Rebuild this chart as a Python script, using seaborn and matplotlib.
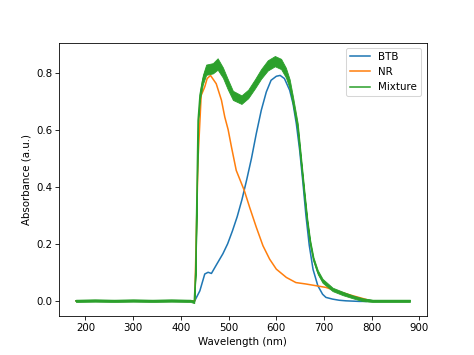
import matplotlib
matplotlib.use("Agg")
import matplotlib.pyplot as plt
import seaborn as sns
import pandas as pd
import numpy as np

# BTB
btb_wl = [180, 300, 420, 429, 439.7, 450, 457, 464, 474, 488, 498, 508, 518, 528, 538, 548, 558, 568.5,
          579, 589, 600, 608, 617, 628, 635, 642, 649, 656, 662, 669, 677, 687, 697, 704, 718, 732,
          746, 774, 788]
btb_abs = [0.0, 0.0, 0.0, 0.0, 0.035, 0.094, 0.10, 0.096, 0.125, 0.165, 0.20, 0.245, 0.295, 0.355,
           0.425, 0.50, 0.586, 0.668, 0.732, 0.773, 0.787, 0.79, 0.779, 0.738, 0.691, 0.62, 0.527,
           0.41, 0.30, 0.195, 0.11, 0.053, 0.023, 0.012, 0.006, 0.002, 0.0, -0.002, -0.002]

# NR
nr_wl = [180, 300, 420, 429, 436, 442.5, 450, 455, 462, 474, 485, 492, 499, 506, 516, 533, 544, 558,
         572, 586, 600, 621, 641, 662, 683, 704, 720, 740, 760, 788, 795]
nr_abs = [0.0, 0.0, 0.0, 0.0, 0.5, 0.72, 0.75, 0.779, 0.79, 0.761, 0.703, 0.644, 0.60, 0.539, 0.457,
          0.386, 0.328, 0.258, 0.193, 0.146, 0.111, 0.082, 0.064, 0.059, 0.053, 0.047, 0.038, 0.028,
          0.018, 0.005, 0.0]

# Mixture (centre of the noisy trace) and its noise half-width
mix_wl = [180, 220, 260, 300, 340, 380, 420, 428, 431, 436, 440, 446, 453, 467, 477, 488, 498, 509,
          527, 541, 555, 568, 582, 597, 610, 620, 628, 635, 645, 652, 659, 665, 671, 678, 687, 697,
          718, 739, 760, 781, 802, 840, 880]
mix_abs = [0.0, 0.001, 0.0, 0.001, 0.0, 0.001, 0.0, -0.004, 0.1, 0.632, 0.72, 0.775, 0.81, 0.815,
           0.83, 0.80, 0.76, 0.72, 0.705, 0.725, 0.76, 0.795, 0.825, 0.84, 0.83, 0.80, 0.76, 0.70,
           0.609, 0.492, 0.375, 0.28, 0.205, 0.145, 0.10, 0.07, 0.04, 0.026, 0.014, 0.004, 0.0, 0.0,
           0.0]
mix_noise = [0.004, 0.004, 0.004, 0.004, 0.004, 0.004, 0.004, 0.004, 0.004, 0.01, 0.014, 0.016,
             0.018, 0.018, 0.02, 0.018, 0.018, 0.016, 0.015, 0.015, 0.016, 0.017, 0.018, 0.018, 0.018,
             0.017, 0.016, 0.015, 0.012, 0.01, 0.009, 0.008, 0.008, 0.007, 0.007, 0.007, 0.006, 0.006,
             0.005, 0.005, 0.004, 0.004, 0.004]

series = ["BTB", "NR", "Mixture"]
colors = ["#1f77b4", "#ff7f0e", "#2ca02c"]

fig, ax = plt.subplots(figsize=(6.4, 355 / 74.0625), dpi=74.0625)
for name, wl, ab, c in zip(series, [btb_wl, nr_wl, mix_wl], [btb_abs, nr_abs, mix_abs], colors):
    df = pd.DataFrame({"wl": wl, "abs": ab})
    sns.lineplot(data=df, x="wl", y="abs", ax=ax, color=c, label=name, lw=1.5, sort=False,
                 estimator=None)

m = np.array(mix_abs)
n = np.array(mix_noise)
ax.fill_between(mix_wl, m - n, m + n, color=colors[2], lw=0.8, edgecolor=colors[2], zorder=2.5)

ax.set_ylim(-0.053, 0.905)
ax.set_xlabel("Wavelength (nm)")
ax.set_ylabel("Absorbance (a.u.)")
ax.set_xticks([200, 300, 400, 500, 600, 700, 800, 900])
ax.set_yticks([0.0, 0.2, 0.4, 0.6, 0.8])
ax.legend(loc="upper right")
fig.savefig("out.png", dpi=74.0625)
